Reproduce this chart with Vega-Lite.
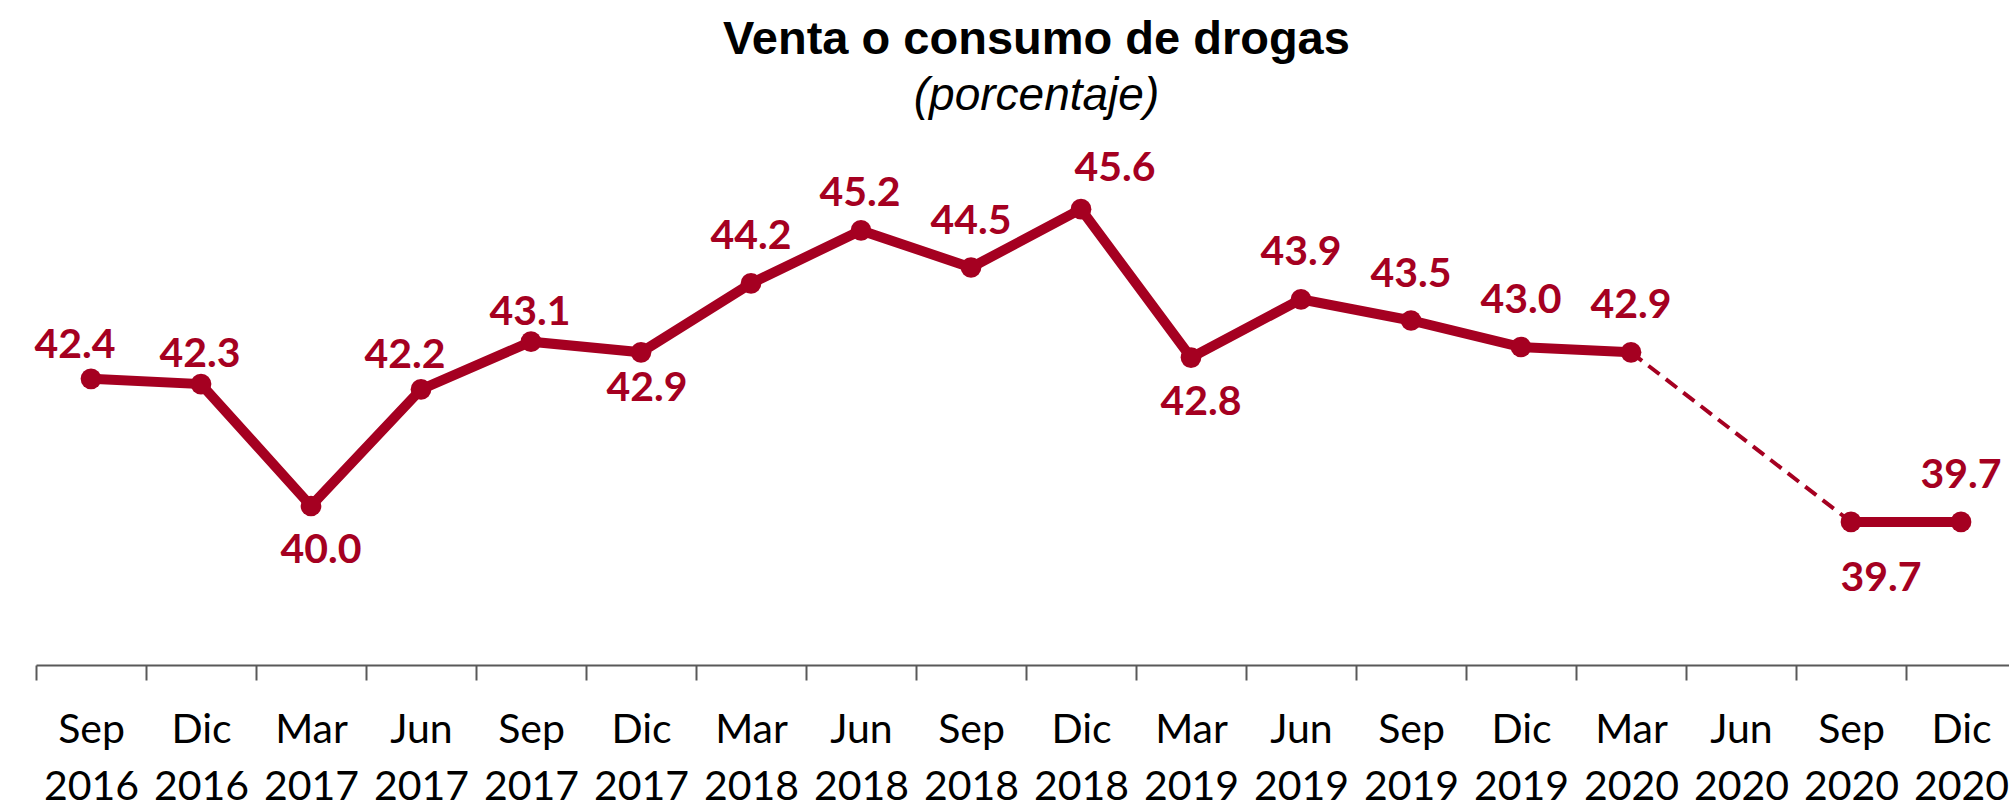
{
  "$schema": "https://vega.github.io/schema/vega-lite/v6.json",
  "width": 1973,
  "height": 530,
  "autosize": {"type": "none"},
  "padding": {"left": 36, "top": 135, "right": 0, "bottom": 144},
  "background": "white",
  "title": {
    "text": "Venta o consumo de drogas",
    "subtitle": "(porcentaje)",
    "font": "Liberation Sans",
    "fontSize": 47,
    "fontWeight": "bold",
    "color": "black",
    "subtitleFont": "Liberation Sans",
    "subtitleFontSize": 46,
    "subtitleFontStyle": "italic",
    "subtitleColor": "black",
    "anchor": "middle",
    "dx": 14,
    "offset": 15,
    "subtitlePadding": 10
  },
  "data": {
    "values": [
      {"periodo": "Sep 2016", "valor": 42.4, "tramo": "a"},
      {"periodo": "Dic 2016", "valor": 42.3, "tramo": "a"},
      {"periodo": "Mar 2017", "valor": 40.0, "tramo": "a"},
      {"periodo": "Jun 2017", "valor": 42.2, "tramo": "a"},
      {"periodo": "Sep 2017", "valor": 43.1, "tramo": "a"},
      {"periodo": "Dic 2017", "valor": 42.9, "tramo": "a"},
      {"periodo": "Mar 2018", "valor": 44.2, "tramo": "a"},
      {"periodo": "Jun 2018", "valor": 45.2, "tramo": "a"},
      {"periodo": "Sep 2018", "valor": 44.5, "tramo": "a"},
      {"periodo": "Dic 2018", "valor": 45.6, "tramo": "a"},
      {"periodo": "Mar 2019", "valor": 42.8, "tramo": "a"},
      {"periodo": "Jun 2019", "valor": 43.9, "tramo": "a"},
      {"periodo": "Sep 2019", "valor": 43.5, "tramo": "a"},
      {"periodo": "Dic 2019", "valor": 43.0, "tramo": "a"},
      {"periodo": "Mar 2020", "valor": 42.9, "tramo": "a"},
      {"periodo": "Sep 2020", "valor": 39.7, "tramo": "b"},
      {"periodo": "Dic 2020", "valor": 39.7, "tramo": "b"}
    ]
  },
  "encoding": {
    "x": {
      "field": "periodo",
      "type": "ordinal",
      "sort": null,
      "scale": {
        "type": "band",
        "domain": ["Sep 2016", "Dic 2016", "Mar 2017", "Jun 2017", "Sep 2017", "Dic 2017", "Mar 2018", "Jun 2018", "Sep 2018", "Dic 2018", "Mar 2019", "Jun 2019", "Sep 2019", "Dic 2019", "Mar 2020", "Jun 2020", "Sep 2020", "Dic 2020"],
        "range": [0, 1980],
        "paddingInner": 0,
        "paddingOuter": 0
      },
      "axis": {
        "title": null,
        "labelExpr": "split(datum.label, ' ')",
        "labelAngle": 0,
        "labelFont": "Lato",
        "labelFontSize": 41,
        "labelColor": "black",
        "labelLineHeight": 57,
        "labelBaseline": "top",
        "labelPadding": 30,
        "labelOverlap": false,
        "labelBound": false,
        "tickBand": "extent",
        "tickSize": 15,
        "tickColor": "#595959",
        "tickWidth": 2,
        "domainColor": "#595959",
        "domainWidth": 2,
        "grid": false
      }
    },
    "y": {
      "field": "valor",
      "type": "quantitative",
      "scale": {"domain": [37, 47], "zero": false, "nice": false},
      "axis": null
    }
  },
  "layer": [
    {
      "mark": {"type": "line", "color": "#A50021", "strokeWidth": 10},
      "encoding": {"detail": {"field": "tramo"}}
    },
    {
      "transform": [{"filter": {"field": "periodo", "oneOf": ["Mar 2020", "Sep 2020"]}}],
      "mark": {"type": "line", "color": "#A50021", "strokeWidth": 4, "strokeDash": [14, 8]},
      "encoding": {}
    },
    {
      "mark": {"type": "point", "filled": true, "size": 430, "color": "#A50021", "opacity": 1}
    },
    {
      "transform": [{"filter": {"field": "periodo", "oneOf": ["Mar 2018", "Sep 2018", "Jun 2019", "Sep 2019", "Dic 2019", "Mar 2020", "Dic 2020"]}}],
      "mark": {"type": "text", "font": "Lato", "fontSize": 41, "fontWeight": "bold", "color": "#A50021", "baseline": "middle", "dx": 0, "dy": -46},
      "encoding": {"text": {"field": "valor", "type": "quantitative", "format": ".1f"}}
    },
    {
      "transform": [{"filter": {"field": "periodo", "oneOf": ["Dic 2016", "Sep 2017"]}}],
      "mark": {"type": "text", "font": "Lato", "fontSize": 41, "fontWeight": "bold", "color": "#A50021", "baseline": "middle", "dx": -1, "dy": -29},
      "encoding": {"text": {"field": "valor", "type": "quantitative", "format": ".1f"}}
    },
    {
      "transform": [{"filter": {"field": "periodo", "oneOf": ["Jun 2018"]}}],
      "mark": {"type": "text", "font": "Lato", "fontSize": 41, "fontWeight": "bold", "color": "#A50021", "baseline": "middle", "dx": -1, "dy": -36},
      "encoding": {"text": {"field": "valor", "type": "quantitative", "format": ".1f"}}
    },
    {
      "transform": [{"filter": {"field": "periodo", "oneOf": ["Sep 2016", "Jun 2017"]}}],
      "mark": {"type": "text", "font": "Lato", "fontSize": 41, "fontWeight": "bold", "color": "#A50021", "baseline": "middle", "dx": -16, "dy": -33},
      "encoding": {"text": {"field": "valor", "type": "quantitative", "format": ".1f"}}
    },
    {
      "transform": [{"filter": {"field": "periodo", "oneOf": ["Dic 2018"]}}],
      "mark": {"type": "text", "font": "Lato", "fontSize": 41, "fontWeight": "bold", "color": "#A50021", "baseline": "middle", "dx": 34, "dy": -40},
      "encoding": {"text": {"field": "valor", "type": "quantitative", "format": ".1f"}}
    },
    {
      "transform": [{"filter": {"field": "periodo", "oneOf": ["Mar 2017", "Mar 2019"]}}],
      "mark": {"type": "text", "font": "Lato", "fontSize": 41, "fontWeight": "bold", "color": "#A50021", "baseline": "middle", "dx": 10, "dy": 45},
      "encoding": {"text": {"field": "valor", "type": "quantitative", "format": ".1f"}}
    },
    {
      "transform": [{"filter": {"field": "periodo", "oneOf": ["Dic 2017"]}}],
      "mark": {"type": "text", "font": "Lato", "fontSize": 41, "fontWeight": "bold", "color": "#A50021", "baseline": "middle", "dx": 6, "dy": 37},
      "encoding": {"text": {"field": "valor", "type": "quantitative", "format": ".1f"}}
    },
    {
      "transform": [{"filter": {"field": "periodo", "oneOf": ["Sep 2020"]}}],
      "mark": {"type": "text", "font": "Lato", "fontSize": 41, "fontWeight": "bold", "color": "#A50021", "baseline": "middle", "dx": 30, "dy": 57},
      "encoding": {"text": {"field": "valor", "type": "quantitative", "format": ".1f"}}
    }
  ],
  "config": {"view": {"stroke": null}}
}
